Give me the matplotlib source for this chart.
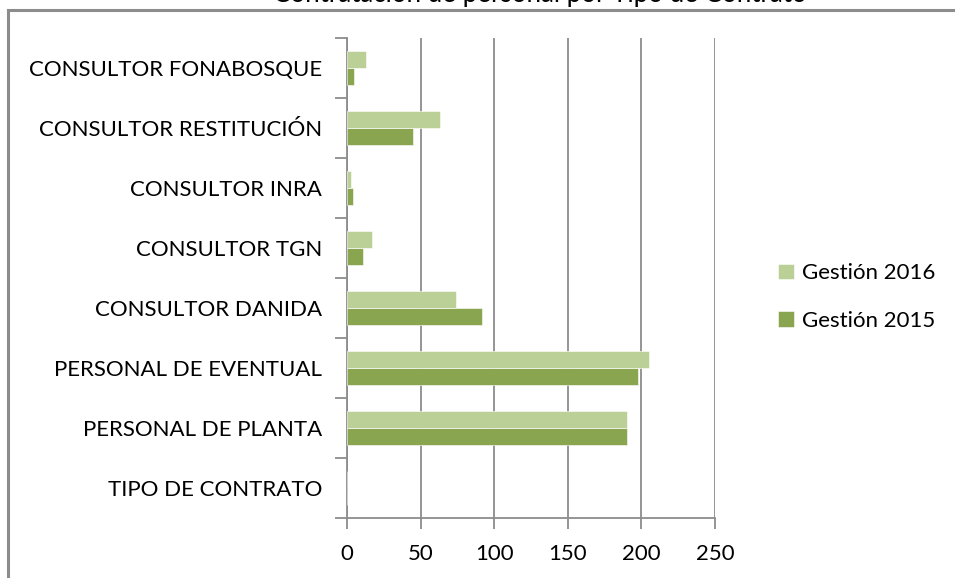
import numpy as np
import matplotlib.pyplot as plt
from matplotlib.patches import Rectangle
from matplotlib.ticker import FixedLocator

plt.rcParams['font.family'] = ['Lato', 'DejaVu Sans']

# Contract types, bottom to top
categorias = ['TIPO DE CONTRATO', 'PERSONAL DE PLANTA', 'PERSONAL DE EVENTUAL',
              'CONSULTOR DANIDA', 'CONSULTOR TGN', 'CONSULTOR INRA',
              'CONSULTOR RESTITUCIÓN', 'CONSULTOR FONABOSQUE']
gestion_2015 = [0, 190, 198, 92, 11, 4, 45, 5]
gestion_2016 = [0, 190, 205, 74, 17, 3, 63, 13]
x_ticks = [0, 50, 100, 150, 200, 250]

color_2015 = '#8aa54f'
color_2016 = '#bbd097'
gris = '#8c8c8c'
fs = 16

W, H = 955, 578
fig = plt.figure(figsize=(W / 100, H / 100), dpi=100)
ax = fig.add_axes([347 / W, 1 - 518 / H, (715 - 347) / W, (518 - 38) / H])

y = np.arange(len(categorias))
h = 0.285
ax.barh(y - h / 2, gestion_2015, height=h, color=color_2015, label='Gestión 2015',
        edgecolor='white', linewidth=0.4, zorder=3)
ax.barh(y + h / 2, gestion_2016, height=h, color=color_2016, label='Gestión 2016',
        edgecolor='white', linewidth=0.4, zorder=3)

ax.set_xlim(0, 250)
ax.set_ylim(-0.5, len(categorias) - 0.5)
ax.set_xticks(x_ticks)
ax.set_xticklabels([str(t) for t in x_ticks], fontsize=fs)
ax.set_yticks(y)
ax.set_yticklabels(categorias, fontsize=fs)
ax.yaxis.set_minor_locator(FixedLocator(np.arange(-0.5, len(categorias), 1.0)))
ax.tick_params(axis='y', which='major', length=0, pad=18)
ax.tick_params(axis='y', which='minor', length=9, width=1.3, color=gris)
ax.tick_params(axis='x', length=8, width=1.3, color=gris, pad=11)

ax.grid(axis='x', color=gris, linewidth=1.3, zorder=0)
for s in ['top', 'right']:
    ax.spines[s].set_visible(False)
for s in ['left', 'bottom']:
    ax.spines[s].set_color(gris)
    ax.spines[s].set_linewidth(1.3)

handles, labels = ax.get_legend_handles_labels()
fig.legend(handles[::-1], labels[::-1], loc='center left',
           bbox_to_anchor=(758 / W, 1 - 297 / H), frameon=False, fontsize=fs,
           handlelength=0.7, handleheight=0.7, handletextpad=0.4, labelspacing=1.25)

# chart frame and title (title sits above the frame, mostly off the top edge)
fig.patches.append(Rectangle((8 / W, -0.1), 1.2, 1 - 10 / H + 0.1, transform=fig.transFigure,
                             fill=False, edgecolor=gris, linewidth=2.2))
fig.text(540 / W, 1 - 2 / H, 'Contratación de personal por Tipo de Contrato',
         ha='center', va='baseline', fontsize=18.6)

fig.savefig('out.png', dpi=100)
